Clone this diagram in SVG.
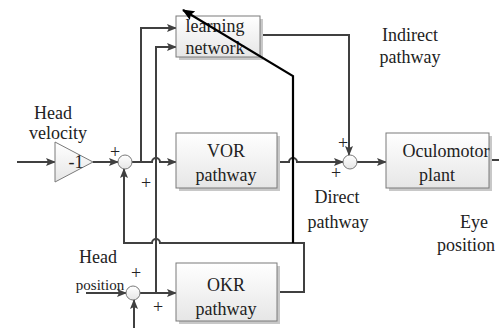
<svg xmlns="http://www.w3.org/2000/svg" width="499" height="328" viewBox="0 0 499 328">
<defs>
<linearGradient id="bg" x1="0" y1="0" x2="0" y2="1"><stop offset="0" stop-color="#ffffff"/><stop offset="1" stop-color="#e6e6e6"/></linearGradient>
<marker id="ah" markerWidth="10" markerHeight="8" refX="9" refY="4" orient="auto" markerUnits="userSpaceOnUse"><path d="M0,0 L10,4 L0,8 L2,4 Z" fill="#404040"/></marker>
<marker id="ahb" markerWidth="12" markerHeight="10" refX="11" refY="5" orient="auto" markerUnits="userSpaceOnUse"><path d="M0,0 L12,5 L0,10 L2,5 Z" fill="#000"/></marker>
</defs>
<style>
.box{fill:url(#bg);stroke:#7a7a7a;stroke-width:1}
.sh{fill:#c8c8c8}
.sum{fill:url(#bg);stroke:#7a7a7a;stroke-width:1}
.ln{fill:none;stroke:#404040;stroke-width:2}
text{font-family:"Liberation Serif","Times New Roman",serif;fill:#222;text-anchor:middle}
.t{font-size:18px}
.s{font-size:15px}
</style>
<g id="connectors">
<path class="ln" d="M17,162 L55,162" marker-end="url(#ah)"/>
<path class="ln" d="M93,162 L118,162" marker-end="url(#ah)"/>
<path class="ln" d="M132,162 L152,162 A4,4 0 0 1 160,162 L176,162" marker-end="url(#ah)"/>
<path class="ln" d="M141,162 L141,28 L176,28" marker-end="url(#ah)"/>
<path class="ln" d="M156,293 L156,47 L176,47" marker-end="url(#ah)"/>
<path class="ln" d="M260,35 L349,35 L349,155" marker-end="url(#ah)"/>
<path class="ln" d="M277,162 L289,162 A4,4 0 0 1 297,162 L343,162" marker-end="url(#ah)"/>
<path class="ln" d="M357,162 L386,162" marker-end="url(#ah)"/>
<path class="ln" d="M489,160 L499,160"/>
<path class="ln" d="M277,292 L304,292 L304,243 L160,243 A4,4 0 0 0 152,243 L124,243 L124,169" marker-end="url(#ah)"/>
<path class="ln" d="M86,293 L126,293" marker-end="url(#ah)"/>
<path class="ln" d="M134,328 L134,300" marker-end="url(#ah)"/>
<path class="ln" d="M140,293 L176,293" marker-end="url(#ah)"/>
</g>
<g id="gain">
<polygon points="55,142 93,162 55,182" class="box"/>
<text class="t" x="76" y="168">-1</text>
</g>
<g id="sum1"><circle class="sum" cx="125" cy="162" r="7"/></g>
<g id="sum2"><circle class="sum" cx="350" cy="162" r="7"/></g>
<g id="sum3"><circle class="sum" cx="133" cy="293" r="7"/></g>
<g id="learning">
<rect class="sh" x="179" y="19" width="84" height="41"/>
<rect class="box" x="176" y="16" width="84" height="41"/>
<text class="t" x="215" y="32">learning</text>
<text class="t" x="215" y="54">network</text>
</g>
<g id="vor">
<rect class="sh" x="179" y="136" width="101" height="55"/>
<rect class="box" x="176" y="133" width="101" height="55"/>
<text class="t" x="226" y="157">VOR</text>
<text class="t" x="226" y="181">pathway</text>
</g>
<g id="okr">
<rect class="sh" x="179" y="266" width="101" height="58"/>
<rect class="box" x="176" y="263" width="101" height="58"/>
<text class="t" x="226" y="291">OKR</text>
<text class="t" x="226" y="315">pathway</text>
</g>
<g id="oculomotor">
<rect class="sh" x="389" y="136" width="103" height="55"/>
<rect class="box" x="386" y="133" width="103" height="55"/>
<text class="t" x="446" y="157">Oculomotor</text>
<text class="t" x="437" y="181">plant</text>
</g>
<g id="feedback">
<path fill="none" stroke="#000" stroke-width="2.2" d="M293,243 L293,76 L183,10" marker-end="url(#ahb)"/>
</g>
<g id="labels">
<text class="t" x="53" y="119">Head</text>
<text class="t" x="58" y="139">velocity</text>
<text class="t" x="115" y="158">+</text>
<text class="t" x="146" y="189">+</text>
<text class="t" x="343" y="149">+</text>
<text class="t" x="336" y="179">+</text>
<text class="t" x="410" y="41">Indirect</text>
<text class="t" x="410" y="63">pathway</text>
<text class="t" x="337" y="203">Direct</text>
<text class="t" x="338" y="228">pathway</text>
<text class="t" x="474" y="228">Eye</text>
<text class="t" x="466" y="251">position</text>
<text class="t" x="98" y="263">Head</text>
<text class="s" x="100" y="290">position</text>
<text class="t" x="136" y="279">+</text>
<text class="t" x="158" y="313">+</text>
</g>
</svg>
